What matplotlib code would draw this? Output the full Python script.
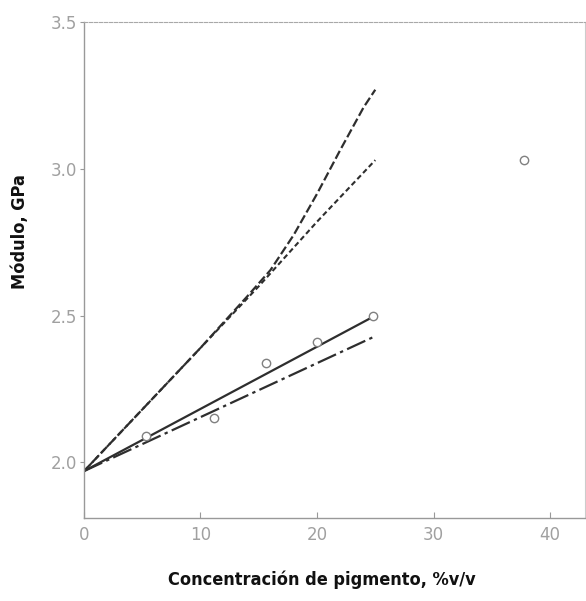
import matplotlib.pyplot as plt
import numpy as np

# pigment concentration, % v/v
conc_long = [0, 5, 10, 14, 16, 18, 20, 22, 24, 25]
mod_long = [1.97, 2.18, 2.39, 2.565, 2.655, 2.775, 2.915, 3.065, 3.21, 3.27]

conc_short = [0, 5, 10, 15, 20, 25]
mod_short = [1.97, 2.18, 2.39, 2.60, 2.82, 3.03]

conc_solid = [0, 25]
mod_solid = [1.97, 2.50]

conc_dashdot = [0, 25]
mod_dashdot = [1.97, 2.43]

# measured points
conc_exp = [5.3, 11.2, 15.6, 20.0, 24.8, 37.8]
mod_exp = [2.09, 2.15, 2.34, 2.41, 2.50, 3.03]

fig = plt.figure(figsize=(5.86, 6.01), dpi=100)
ax = fig.add_axes([0.1433, 0.138, 0.855, 0.825])

line_c = '#2e2e2e'
ax.plot(conc_long, mod_long, color=line_c, lw=1.6, dashes=(4, 1.5))
ax.plot(conc_short, mod_short, color=line_c, lw=1.5, dashes=(2.5, 1.5))
ax.plot(conc_solid, mod_solid, color=line_c, lw=1.6)
ax.plot(conc_dashdot, mod_dashdot, color=line_c, lw=1.6, dashes=(9, 2, 1.5, 2))
ax.plot(conc_exp, mod_exp, 'o', ms=6, mfc='white', mec='#808080', mew=1.0)

ax.set_xlim(0, 43)
ax.set_ylim(1.81, 3.5)
ax.set_xticks([0, 10, 20, 30, 40])
ax.set_xticklabels(['0', '10', '20', '30', '40'])
ax.set_yticks([2.0, 2.5, 3.0, 3.5])
ax.set_yticklabels(['2.0', '2.5', '3.0', '3.5'])

ax.tick_params(axis='x', direction='in', length=4, color='#999999',
               labelcolor='#a0a0a0', labelsize=12, pad=6)
ax.tick_params(axis='y', direction='out', length=3, color='#999999',
               labelcolor='#a0a0a0', labelsize=12, pad=2)

for s in ['left', 'bottom']:
    ax.spines[s].set_color('#999999')
    ax.spines[s].set_linewidth(1.0)
ax.spines['top'].set_color('#a8a8a8')
ax.spines['top'].set_linestyle((0, (3, 1.5)))
ax.spines['right'].set_color('#cccccc')

fig.text(0.55, 0.035, 'Concentración de pigmento, %v/v', ha='center', va='center',
         fontsize=13, fontweight='bold', fontstretch='condensed',
         family='DejaVu Sans', color='#111111')
fig.text(0.034, 0.614, 'Módulo, GPa', ha='center', va='center', rotation=90,
         fontsize=13, fontweight='bold', fontstretch='condensed',
         family='DejaVu Sans', color='#111111')

fig.savefig('out.png', dpi=100)
